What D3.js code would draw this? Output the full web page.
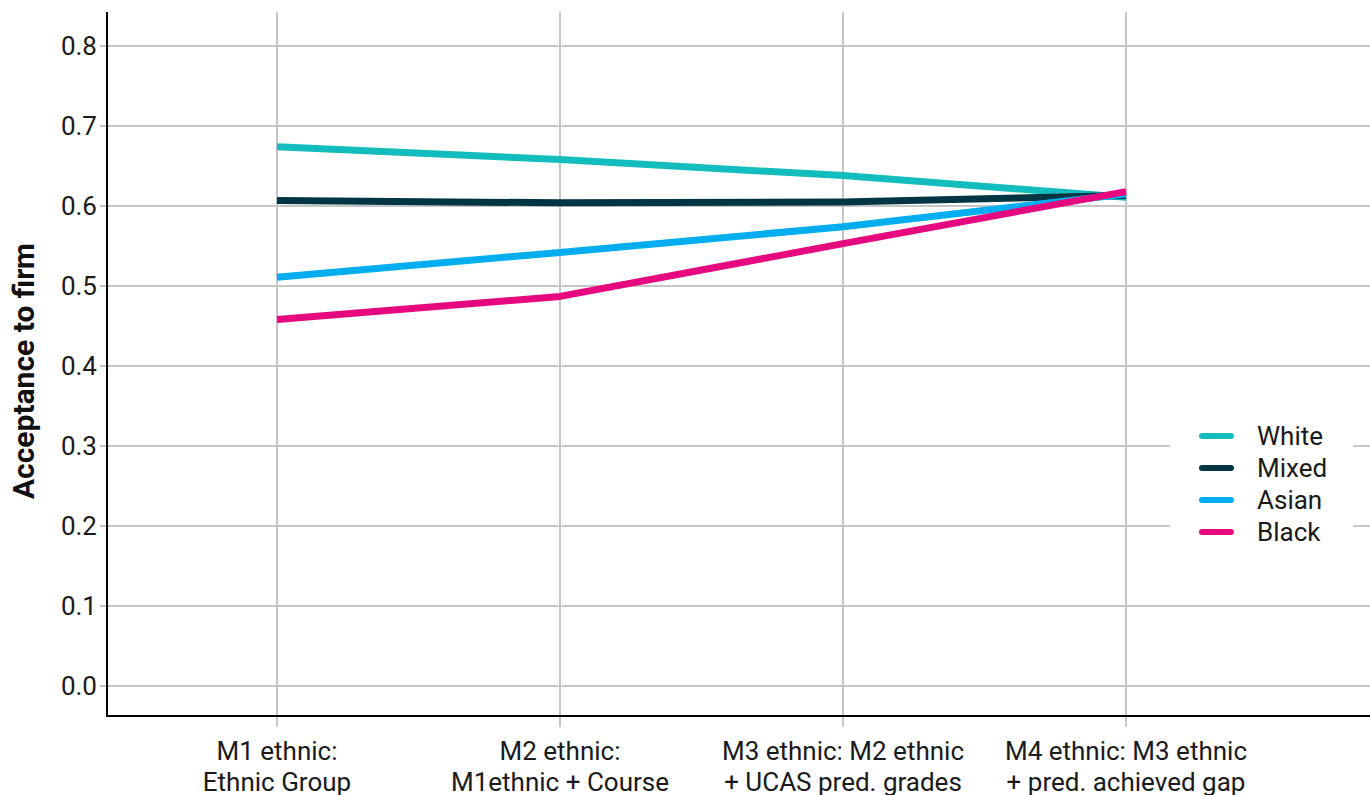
<!DOCTYPE html>
<html lang="en">
<head>
  <meta charset="UTF-8">
  <title>Acceptance to firm by ethnic group</title>
  <style>
    body { margin: 0; background: #fff; }
    svg { display: block; font-family: Roboto, sans-serif; }
    .tick-label { font-size: 26px; fill: #1a1a1a; }
    .legend text { font-size: 26px; fill: #1a1a1a; }
  </style>
</head>
<body>
  <svg id="chart" width="1370" height="795"></svg>
  <script src="https://d3js.org/d3.v7.min.js"></script>
  <script>
    const models = [
      ['M1 ethnic:', 'Ethnic Group'],
      ['M2 ethnic:', 'M1ethnic + Course'],
      ['M3 ethnic: M2 ethnic', '+ UCAS pred. grades'],
      ['M4 ethnic: M3 ethnic', '+ pred. achieved gap']
    ]
    const groups = ['White', 'Mixed', 'Asian', 'Black']
    const colors = ['#13bdbd', '#023544', '#00aeef', '#e6087f']
    const white = [0.674, 0.658, 0.638, 0.611]
    const mixed = [0.607, 0.604, 0.605, 0.613]
    const asian = [0.511, 0.542, 0.574, 0.615]
    const black = [0.458, 0.487, 0.553, 0.618]
    const yTicks = [0, 0.1, 0.2, 0.3, 0.4, 0.5, 0.6, 0.7, 0.8]

    const seriesValues = [white, mixed, asian, black]

    const svg = d3.select('#chart')
    const plotLeft = 107, plotRight = 1370, plotTop = 12, plotBottom = 716

    const x = d3.scalePoint()
      .domain(d3.range(models.length))
      .range([277, 1126])

    const y = d3.scaleLinear()
      .domain([0, 0.8])
      .range([686, 46])

    // grid
    svg.append('g').selectAll('line')
      .data(yTicks)
      .join('line')
      .attr('x1', plotLeft - 7).attr('x2', plotRight)
      .attr('y1', d => y(d)).attr('y2', d => y(d))
      .attr('stroke', '#c6c6c6').attr('stroke-width', 2)

    svg.append('g').selectAll('line')
      .data(d3.range(models.length))
      .join('line')
      .attr('x1', d => x(d)).attr('x2', d => x(d))
      .attr('y1', plotTop).attr('y2', plotBottom + 11)
      .attr('stroke', '#c6c6c6').attr('stroke-width', 2)

    // axes lines
    svg.append('line')
      .attr('x1', plotLeft).attr('x2', plotLeft).attr('y1', plotTop).attr('y2', plotBottom + 1)
      .attr('stroke', '#000').attr('stroke-width', 2)
    svg.append('line')
      .attr('x1', plotLeft - 1).attr('x2', plotRight).attr('y1', plotBottom).attr('y2', plotBottom)
      .attr('stroke', '#000').attr('stroke-width', 2)

    // y tick labels
    svg.append('g').selectAll('text')
      .data(yTicks)
      .join('text')
      .attr('class', 'tick-label')
      .attr('x', plotLeft - 10)
      .attr('y', d => y(d))
      .attr('dy', '0.35em')
      .attr('text-anchor', 'end')
      .text(d => d3.format('.1f')(d))

    // x tick labels
    const xl = svg.append('g').selectAll('text')
      .data(models)
      .join('text')
      .attr('class', 'tick-label')
      .attr('text-anchor', 'middle')
      .attr('x', (d, i) => x(i))
      .attr('y', 760)
    xl.selectAll('tspan')
      .data(d => d)
      .join('tspan')
      .attr('x', function () { return this.parentNode.getAttribute('x') })
      .attr('dy', (d, i) => i === 0 ? 0 : 31)
      .text(d => d)

    // y title
    svg.append('text')
      .attr('transform', 'translate(34, 371) rotate(-90)')
      .attr('text-anchor', 'middle')
      .attr('font-size', 30)
      .attr('font-weight', 'bold')
      .attr('fill', '#111')
      .text('Acceptance to firm')

    // lines
    const line = d3.line()
      .x((d, i) => x(i))
      .y(d => y(d))

    svg.append('g').selectAll('path')
      .data(seriesValues)
      .join('path')
      .attr('d', d => line(d))
      .attr('fill', 'none')
      .attr('stroke', (d, i) => colors[i])
      .attr('stroke-width', 7)
      .attr('stroke-linejoin', 'round')

    // legend
    const legend = svg.append('g').attr('class', 'legend')
    legend.append('rect')
      .attr('x', 1170).attr('y', 415).attr('width', 183).attr('height', 140)
      .attr('fill', '#fff')
    const item = legend.selectAll('g.item')
      .data(groups)
      .join('g')
      .attr('class', 'item')
      .attr('transform', (d, i) => `translate(0, ${436 + i * 32})`)
    item.append('line')
      .attr('x1', 1202).attr('x2', 1231)
      .attr('stroke', (d, i) => colors[i])
      .attr('stroke-width', 6)
      .attr('stroke-linecap', 'round')
    item.append('text')
      .attr('x', 1257)
      .attr('dy', '0.35em')
      .text(d => d)
  </script>
</body>
</html>
